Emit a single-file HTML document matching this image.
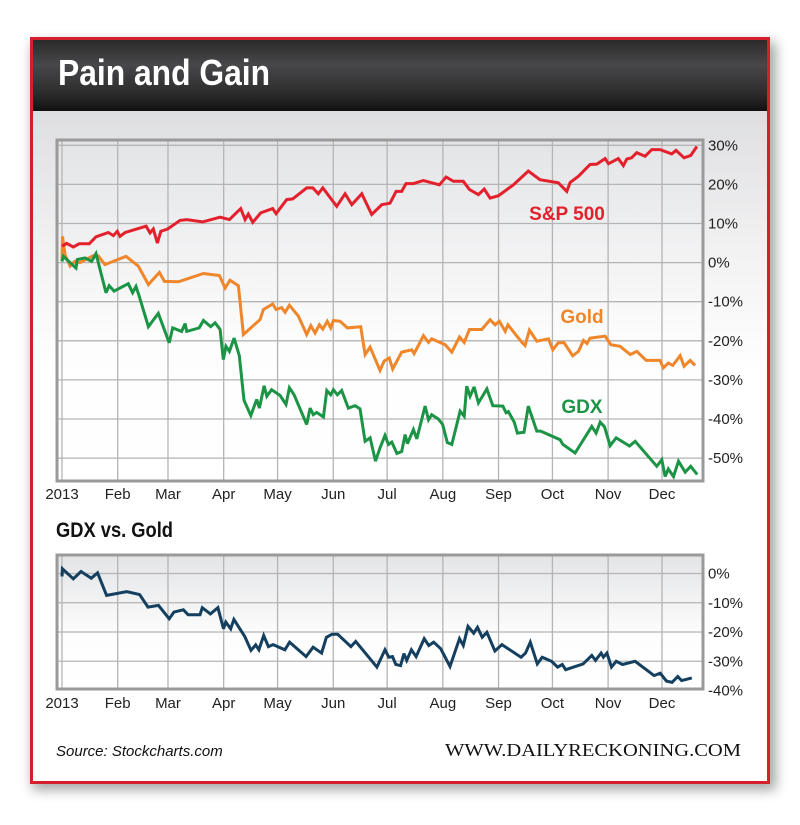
<!DOCTYPE html>
<html><head><meta charset="utf-8"><style>
html,body{margin:0;padding:0;background:#fff;}
svg{display:block;font-family:"Liberation Sans",Arial,sans-serif;}
</style></head><body>
<svg id="root" width="800" height="825" viewBox="0 0 800 825" xmlns="http://www.w3.org/2000/svg">
<defs>
<linearGradient id="hdr" x1="0" y1="0" x2="0" y2="1">
<stop offset="0" stop-color="#2a2a2b"/><stop offset="0.35" stop-color="#48484a"/><stop offset="0.75" stop-color="#2c2c2d"/><stop offset="1" stop-color="#111"/></linearGradient>
<linearGradient id="body" x1="0" y1="0" x2="0" y2="1">
<stop offset="0" stop-color="#d4d5d7"/><stop offset="0.3" stop-color="#f3f3f4"/><stop offset="0.45" stop-color="#fff"/><stop offset="1" stop-color="#fff"/></linearGradient>
<linearGradient id="plot" x1="0" y1="0" x2="0" y2="1">
<stop offset="0" stop-color="#e3e4e6"/><stop offset="0.6" stop-color="#fdfdfd"/><stop offset="1" stop-color="#fff"/></linearGradient>
<filter id="sh" x="-10%" y="-10%" width="120%" height="120%"><feGaussianBlur stdDeviation="6"/></filter>
</defs>
<rect x="32" y="42" width="744" height="748" fill="#000" opacity="0.35" filter="url(#sh)"/>
<rect x="31.5" y="38.5" width="737" height="744" fill="url(#body)" stroke="#d3202a" stroke-width="3"/>
<rect x="33" y="40" width="734" height="71" fill="url(#hdr)"/>
<text x="58" y="85" fill="#fff" font-family="'Liberation Sans Narrow','Liberation Sans',sans-serif" font-weight="bold" font-size="36" textLength="212" lengthAdjust="spacingAndGlyphs">Pain and Gain</text>
<g id="topPanel"></g>
<text x="56" y="537" fill="#111" font-family="'Liberation Sans Narrow','Liberation Sans',sans-serif" font-weight="bold" font-size="21" textLength="117" lengthAdjust="spacingAndGlyphs">GDX vs. Gold</text>
<g id="botPanel"></g>
<text x="56" y="756" fill="#111" font-style="italic" font-size="15">Source:  Stockcharts.com</text>
<text x="741" y="756" fill="#111" text-anchor="end" font-family="'Liberation Serif',serif" font-size="18" textLength="296" lengthAdjust="spacingAndGlyphs">WWW.DAILYRECKONING.COM</text>
</svg>
<script>
const months = ["2013","Feb","Mar","Apr","May","Jun","Jul","Aug","Sep","Oct","Nov","Dec"];
const monthDays = [0,31,59,90,120,151,181,212,243,273,304,334];
const topTicks = [30,20,10,0,-10,-20,-30,-40,-50];
const botTicks = [0,-10,-20,-30,-40];
const spxDays = [0,2.6,6.3,9.6,15.2,18.9,25.8,28.6,30.8,32.3,35.1,46.8,49,50.8,53.1,55,58.8,65.7,69.4,78.3,88,93.2,99.5,101.9,103.7,106.2,110.6,117.3,119.2,125.1,128.4,136.2,139.6,142.7,145.2,152.9,157.6,161.3,166.9,172.4,178,182.6,186,189.1,191.5,195.6,201.2,210.1,213.8,217.9,223.4,226.8,231.8,235,238.3,243,251.3,259.6,266.1,276.3,281,282.9,287.5,294,297.7,302.3,304.2,309.7,312.5,314.4,317.1,319.9,324.6,328.3,332.9,339.4,341.8,346.3,350,353.4];
const spxVals = [4.2,4.9,4.0,4.8,4.8,6.6,7.7,6.9,8.0,6.7,7.7,9.3,7.6,8.6,5.0,8.0,8.6,10.8,11.0,10.4,11.6,11.0,13.8,11.0,12.4,10.3,12.7,13.8,12.5,16.1,16.3,19.1,19.1,17.6,19.1,14.4,17.6,14.8,17.6,12.3,14.8,15.2,18.2,18.2,20.2,20.2,21.0,19.9,21.9,20.8,20.8,18.7,17.4,18.8,16.5,17.1,19.9,23.4,21.2,20.4,18.2,20.5,22.1,25.1,25.2,26.6,25.3,26.6,24.8,26.5,26.8,28.1,27.2,28.9,28.9,27.8,28.7,26.8,27.4,29.7];
const goldDays = [0,0.3,1.7,4.5,7.2,10,17.4,20.2,23.9,35.6,42.5,48.1,54.2,57,64.8,78.7,87.6,90.8,93.5,98.2,101,110.2,112.1,117.3,119.2,122.3,124.2,126.6,131.6,136.2,138.5,140.9,143.3,145.2,147.7,149.6,151.1,154.8,158.9,166.3,168.7,171.5,177,179.3,182.2,184.1,189.1,194.7,196,201.2,204,205.8,213.3,217,221.3,223.9,226.8,233.7,238.3,241.1,243.5,246.7,248.2,256,257.8,260.2,264.3,270.8,273.2,276.3,279.5,284.3,287.5,290.3,292.2,294,302.3,305.5,310.7,316.3,320,325.2,332.9,334.7,337.5,340,344.1,346.3,349.7,352.4];
const goldVals = [0.3,6.7,2.0,-0.9,0.3,0,1.8,1.7,-0.5,1.6,-0.9,-5.6,-2.5,-4.8,-4.9,-2.8,-3.3,-6.5,-4.5,-5.9,-18.4,-14.6,-12.0,-10.6,-12.0,-11.5,-12.7,-10.9,-13.7,-18.4,-16.1,-18.0,-15.9,-17.0,-15.0,-16.7,-14.8,-15,-16.7,-16.4,-23.5,-21.6,-27.6,-25.2,-24.4,-27.2,-22.9,-22.3,-23.3,-18.7,-20.4,-19.5,-21,-22.9,-19.0,-20.4,-17.1,-17.1,-14.6,-15.9,-15.0,-17.6,-15.9,-20.4,-21.2,-17.3,-20.1,-19.5,-22.3,-20.5,-20.5,-23.8,-22.7,-19.9,-20.7,-19.3,-18.8,-21,-21.4,-23.5,-22.7,-25.0,-25.0,-26.9,-25.7,-26.3,-23.8,-26.5,-25.0,-26.3];
const gdxDays = [0,0.7,7.8,8.5,12.8,16.5,18.9,24.5,26.3,29,36.9,39.3,41.2,43,48.1,53.6,59.7,61.6,66.6,68.5,69.4,76.4,78.7,82.8,85.2,88,89.8,91.3,93.2,95.8,98.7,101.3,105.1,108.4,109.9,112.5,114,116.7,121.4,124.7,126.6,129.2,136.2,138.1,139.9,141.8,145.5,147.4,149.6,151.1,153.3,155.7,159.4,163.1,165.9,168.7,171.5,174.5,177,179.8,181.7,183.6,186.4,189.1,191,192.3,195.6,197.5,202.1,204,205.8,209.5,211.9,214.5,217,221.6,223.9,225.3,227.2,229.4,231.8,236.5,239.8,245.4,247.2,248.5,251.7,253.5,257.2,259.6,264.3,266.5,277.3,278.8,285.6,294.9,297.3,299.6,302,305.1,308.5,315.9,319.1,331.1,333.9,335.7,337.5,340.4,343.2,346.9,350,353.6];
const gdxVals = [0.3,1.6,-1.4,0.8,1.2,0.3,2.3,-7.7,-5.9,-7.3,-5.4,-7.7,-6.1,-8.6,-16.4,-13.0,-20.5,-16.7,-17.6,-15.6,-17.6,-16.7,-14.8,-16.4,-15.4,-17.1,-24.8,-21.4,-22.7,-19.3,-23.8,-35.2,-39.1,-35.0,-37.2,-31.5,-34.2,-32.5,-34,-36.3,-32.0,-33.8,-41.4,-37.2,-38.9,-38.3,-39.5,-32.7,-33.8,-32.5,-33.8,-32.7,-37.2,-36.6,-37.4,-45.7,-44.8,-50.8,-47.4,-44.2,-46.5,-45.9,-48.8,-48.3,-44.0,-46.3,-42.7,-45.1,-36.7,-40.2,-38.9,-40.0,-41.4,-46.0,-46.5,-38.0,-39.3,-31.6,-34.2,-31.8,-35.9,-32.3,-36.6,-36.7,-38.4,-38.1,-40.8,-43.6,-43.4,-36.7,-43.1,-43.1,-45.3,-46.5,-48.7,-41.9,-43.6,-40.8,-42.0,-46.8,-44.8,-46.9,-45.7,-52.1,-50.4,-54.7,-52.8,-54.7,-50.8,-53.6,-52.1,-54.2];
const ratioDays = [0,0.2,6.3,10.6,16.3,19.8,24.8,36,43.2,47.9,53.7,59.7,62.3,67.6,70.2,76.8,78.1,82.6,86.8,89.9,91.2,93.9,95.7,101.7,105.2,107.8,109.6,112.3,114.9,117.5,124.1,126.7,135.9,139.8,144.5,147.2,150.3,153.5,160.8,163.5,175.3,179.8,181.9,184,185.8,188.5,190.3,191.9,194.5,197.1,201.6,204.2,206.9,210.8,216,221.3,223.4,226,229.2,231.3,233.9,236.5,241,244.9,255.5,258,260.7,264.6,267.3,272.5,275.9,278.5,280.4,290.1,294.9,297,300.1,301.4,303.3,305.9,308.5,312,319,329.6,333,336.5,339.6,342.8,344.9,350.6];
const ratioVals = [-1.0,1.6,-1.8,0.7,-1.6,0.2,-7.5,-6.2,-7.2,-11.5,-10.9,-15.5,-13.2,-12.4,-14.1,-14.1,-11.7,-13.8,-11.7,-18.9,-16.6,-18.9,-15.7,-21.5,-26.3,-24.4,-26.1,-21.2,-25.0,-24.3,-26.1,-23.5,-28.4,-25.2,-27.2,-21.8,-20.8,-20.8,-25.0,-23.2,-32.0,-26.1,-28.6,-28.4,-31.1,-31.5,-27.4,-29.7,-26.1,-28.4,-22.3,-24.6,-23.5,-25.7,-31.8,-22.3,-24.6,-18.1,-20.4,-18.4,-21.8,-20.1,-26.5,-24.3,-28.6,-27.2,-23.5,-30.9,-28.6,-30.0,-32.0,-31.1,-32.9,-30.9,-28.0,-29.7,-27.2,-28.6,-27.2,-32.0,-30.0,-31.1,-30.0,-34.9,-34.1,-36.8,-37.2,-35.2,-36.6,-35.7];

const NS="http://www.w3.org/2000/svg";
function mk(tag, attrs, parent){const e=document.createElementNS(NS,tag);for(const k in attrs)e.setAttribute(k,attrs[k]);parent.appendChild(e);return e;}
const xS = d => 62 + d*(600/334);

function drawPanel(g, L, T, R, B, y, ticks, lblY, prefix){
  const bg = mk('rect',{x:L,y:T,width:R-L,height:B-T,fill:'url(#plot)'},g);
  
  
  ticks.forEach(t=>{
    const yy=y(t);
    if(yy>T+2 && yy<B-2){
      const l=mk('line',{x1:L,x2:R,y1:yy,y2:yy,stroke:'#b4b4b4','stroke-width':1.3},g);
      
      
    }
    const tx=mk('text',{x:R+5,y:yy+5,'font-size':15,fill:'#222'},g);
    
    
    tx.textContent=t+'%';
  });
  months.forEach((m,i)=>{
    const xx=xS(monthDays[i]);
    const l=mk('line',{x1:xx,x2:xx,y1:T,y2:B,stroke:'#b4b4b4','stroke-width':1.3},g);
    
    
    const tx=mk('text',{x:xx,y:lblY,'font-size':15,fill:'#222','text-anchor':'middle'},g);
    
    
    tx.textContent=m;
  });
  const fr=mk('rect',{x:L,y:T,width:R-L,height:B-T,fill:'none',stroke:'#9a9a9a','stroke-width':3},g);
  
  
}
function line(g, days, vals, y, color, name){
  const p=mk('polyline',{points:days.map((d,i)=>xS(d).toFixed(1)+','+y(vals[i]).toFixed(1)).join(' '),fill:'none',stroke:color,'stroke-width':3,'stroke-linejoin':'miter','stroke-miterlimit':3},g);
  
  
}
const topG=document.getElementById('topPanel');


const yT = v => 262.6 - v*3.91;
drawPanel(topG,57,140,703,481,yT,topTicks,499,'main');
line(topG,goldDays,goldVals,yT,'#f0862a','gold-line');
line(topG,gdxDays,gdxVals,yT,'#1b9446','gdx-line');
line(topG,spxDays,spxVals,yT,'#e3202b','sp500-line');
[['S&P 500',567,220,'#e3202b','sp500-label'],['Gold',582,323,'#f0862a','gold-label'],['GDX',582,413,'#1b9446','gdx-label']].forEach(a=>{
  const t=mk('text',{x:a[1],y:a[2],fill:a[3],'font-size':19,'font-weight':'bold','text-anchor':'middle'},topG);
  
  
  t.textContent=a[0];
});
const botG=document.getElementById('botPanel');


const yB = v => 573.5 - v*2.925;
drawPanel(botG,57,555,703,689,yB,botTicks,708,'ratio');
line(botG,ratioDays,ratioVals,yB,'#143f5f','ratio-line');
</script>
</body></html>
